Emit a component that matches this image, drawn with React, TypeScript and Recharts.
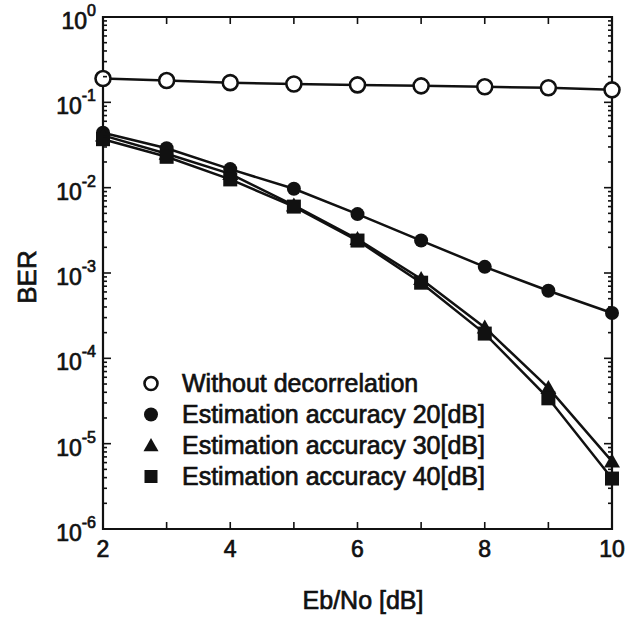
import React from "react";
import {
  LineChart,
  Line,
  XAxis,
  YAxis,
  Legend,
  ReferenceArea,
} from "recharts";

const ebno = [2, 3, 4, 5, 6, 7, 8, 9, 10];
const withoutDecorrelation = [0.19, 0.18, 0.17, 0.164, 0.16, 0.156, 0.152, 0.148, 0.14];
const accuracy20 = [0.044, 0.029, 0.0165, 0.0097, 0.0049, 0.0024, 0.00118, 0.00062, 0.00034];
const accuracy30 = [0.041, 0.025, 0.0145, 0.0062, 0.0025, 0.00085, 0.00023, 0.000045, 0.0000062];
const accuracy40 = [0.037, 0.023, 0.0125, 0.006, 0.0024, 0.00077, 0.000195, 0.000034, 0.0000039];

const xTickLabels = [2, 4, 6, 8, 10];
const decades = [-6, -5, -4, -3, -2, -1, 0];

const seriesNames = [
  "Without decorrelation",
  "Estimation accuracy 20[dB]",
  "Estimation accuracy 30[dB]",
  "Estimation accuracy 40[dB]",
];

const data = ebno.map((x, i) => ({
  x,
  none: withoutDecorrelation[i],
  a20: accuracy20[i],
  a30: accuracy30[i],
  a40: accuracy40[i],
}));

// minor log ticks 2..9 inside each decade
const yTicks: number[] = [];
decades.forEach((d) => {
  yTicks.push(Math.pow(10, d));
  if (d < 0) for (let m = 2; m <= 9; m++) yTicks.push(m * Math.pow(10, d));
});

const W = 637;
const H = 617;
const PLOT = { left: 103, right: 612, top: 17, bottom: 529 };
const FONT = '"Liberation Sans", Arial, Helvetica, sans-serif';
const INK = "#111";
// the scanned original has heavier glyphs than plain Arial
const thick = { stroke: INK, strokeWidth: 0.7 };

function YTick(props: any) {
  const { y, payload } = props;
  const lg = Math.log10(payload.value);
  const exp = Math.round(lg);
  const major = Math.abs(lg - exp) < 1e-6;
  const len = major ? 8 : 4;
  return (
    <g>
      <line x1={PLOT.left} x2={PLOT.left + len} y1={y} y2={y} stroke={INK} strokeWidth={1.6} />
      <line x1={PLOT.right - len} x2={PLOT.right} y1={y} y2={y} stroke={INK} strokeWidth={1.6} />
      {major && (
        <text
          x={PLOT.left - 7}
          y={y + 12}
          textAnchor="end"
          fontFamily={FONT}
          fontSize={23}
          fill={INK}
          {...thick}
        >
          10
          <tspan dy={-13} fontSize={16}>
            {String(exp)}
          </tspan>
        </text>
      )}
    </g>
  );
}

function XTick(props: any) {
  const { x, payload } = props;
  const v = payload.value;
  return (
    <g>
      <line x1={x} x2={x} y1={PLOT.bottom} y2={PLOT.bottom - 7} stroke={INK} strokeWidth={1.6} />
      <line x1={x} x2={x} y1={PLOT.top} y2={PLOT.top + 7} stroke={INK} strokeWidth={1.6} />
      {xTickLabels.includes(v) && (
        <text
          x={x}
          y={PLOT.bottom + 28}
          textAnchor="middle"
          fontFamily={FONT}
          fontSize={23}
          fill={INK}
          {...thick}
        >
          {v}
        </text>
      )}
    </g>
  );
}

function OpenCircle({ cx, cy, r = 7.5 }: any) {
  return <circle cx={cx} cy={cy} r={r} fill="#fff" stroke={INK} strokeWidth={2.6} />;
}
function FilledCircle({ cx, cy, r = 7 }: any) {
  return <circle cx={cx} cy={cy} r={r} fill={INK} stroke="none" />;
}
function Triangle({ cx, cy, s = 8 }: any) {
  return (
    <polygon
      points={`${cx},${cy - s} ${cx - s},${cy + s * 0.75} ${cx + s},${cy + s * 0.75}`}
      fill={INK}
    />
  );
}
function Square({ cx, cy, s = 7 }: any) {
  return <rect x={cx - s} y={cy - s} width={s * 2} height={s * 2} fill={INK} />;
}

const markers = [OpenCircle, FilledCircle, Triangle, Square];

function LegendBox() {
  return (
    <div
      style={{
        fontFamily: FONT,
        fontSize: 25,
        color: INK,
        lineHeight: "31px",
        WebkitTextStroke: "0.7px #111",
      }}
    >
      {seriesNames.map((name, i) => {
        const M = markers[i];
        return (
          <div key={name} style={{ display: "flex", alignItems: "center", height: 31 }}>
            <svg width={30} height={31} style={{ marginRight: 16 }}>
              <M cx={15} cy={15.5} r={i === 0 ? 6.5 : 7} s={i === 2 ? 7.5 : 6.5} />
            </svg>
            <span>{name}</span>
          </div>
        );
      })}
    </div>
  );
}

const dotFor = (i: number) => (p: any) => {
  const M = markers[i];
  return <M key={`${i}-${p.index}`} cx={p.cx} cy={p.cy} />;
};

export default function App() {
  return (
    <div style={{ position: "absolute", left: 0, top: 0, background: "#fff" }}>
      <LineChart
        width={W}
        height={H}
        data={data}
        margin={{ top: PLOT.top, right: W - PLOT.right, bottom: 0, left: 0 }}
      >
        <XAxis
          dataKey="x"
          type="number"
          domain={[2, 10]}
          ticks={ebno}
          interval={0}
          height={H - PLOT.bottom}
          axisLine={false}
          tickLine={false}
          tickSize={0}
          tick={<XTick />}
          label={{
            content: () => (
              <text
                x={363}
                y={609}
                textAnchor="middle"
                fontFamily={FONT}
                fontSize={25}
                fill={INK}
                {...thick}
              >
                Eb/No [dB]
              </text>
            ),
          }}
        />
        <YAxis
          type="number"
          scale="log"
          domain={[1e-6, 1]}
          allowDataOverflow
          ticks={yTicks}
          interval={0}
          width={PLOT.left}
          axisLine={false}
          tickLine={false}
          tickSize={0}
          tick={<YTick />}
          label={{
            content: () => (
              <text
                x={27}
                y={277}
                transform="rotate(-90 27 277)"
                textAnchor="middle"
                dominantBaseline="central"
                fontFamily={FONT}
                fontSize={26}
                fill={INK}
                {...thick}
              >
                BER
              </text>
            ),
          }}
        />
        <ReferenceArea
          x1={2}
          x2={10}
          y1={1e-6}
          y2={1}
          fill="none"
          stroke={INK}
          strokeWidth={2.2}
          ifOverflow="visible"
        />
        {(["none", "a20", "a30", "a40"] as const).map((key, i) => (
          <Line
            key={key}
            dataKey={key}
            name={seriesNames[i]}
            stroke={INK}
            strokeWidth={2.5}
            dot={dotFor(i)}
            activeDot={false}
            isAnimationActive={false}
          />
        ))}
        <Legend
          layout="vertical"
          align="center"
          verticalAlign="middle"
          content={<LegendBox />}
          wrapperStyle={{ left: 136, top: 368, width: 440 }}
        />
      </LineChart>
    </div>
  );
}
